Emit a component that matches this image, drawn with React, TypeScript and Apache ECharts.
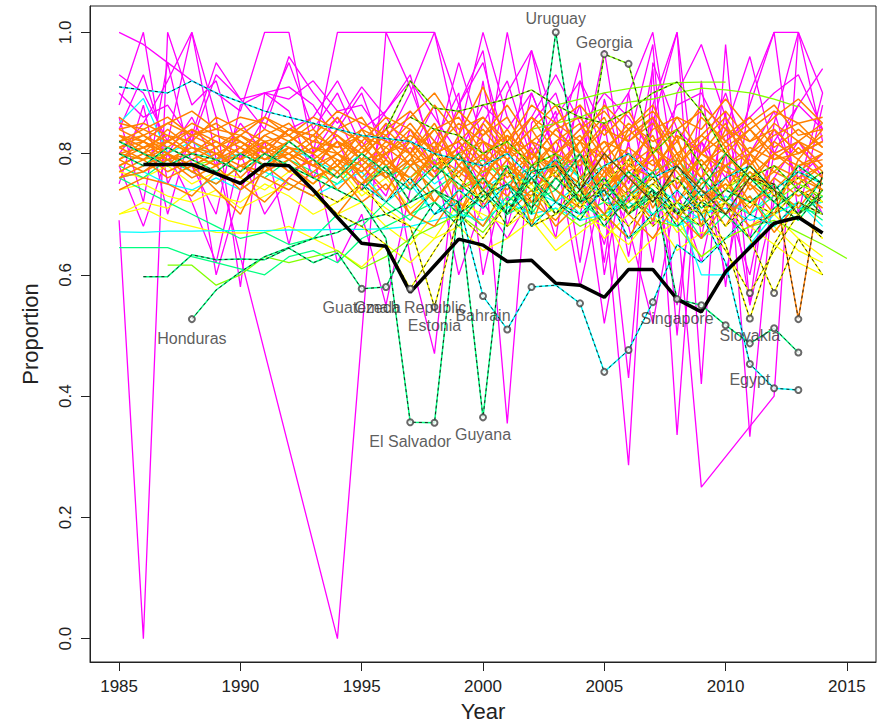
import React, { useEffect, useRef } from "react";
import * as echarts from "echarts";

const _ = null;
type Row = (number | null)[];

const YEARS = [1985, 1986, 1987, 1988, 1989, 1990, 1991, 1992, 1993, 1994, 1995, 1996, 1997, 1998, 1999, 2000, 2001, 2002, 2003, 2004, 2005, 2006, 2007, 2008, 2009, 2010, 2011, 2012, 2013, 2014, 2015];
const X_TICKS = [1985, 1990, 1995, 2000, 2005, 2010, 2015];
const Y_TICKS = [0, 0.2, 0.4, 0.6, 0.8, 1.0];

// ---- magenta countries
const magenta1: Row = [0.69, 0.0, 1.0, 0.88, 0.92, 0.79, 0.86, 0.95, 0.84, 0.9, 0.81, 0.87, 0.93, 0.78, 0.88, 0.95, 0.8, 0.86, 0.93, 0.85, 0.72, 0.286, 0.95, 0.84, 0.8, 0.9, 0.78, 0.84, 0.76, 0.8];
const magenta2: Row = [0.93, 0.9, 0.82, 1.0, 0.79, 0.63, _, _, _, 0.0, _, 1.0, 0.91, 0.8, 0.95, 0.82, 0.355, 0.85, 0.9, 0.77, 0.97, 0.72, 0.94, 0.336, 0.88, 0.84, 0.96, 0.8, 0.88, 0.94];
const magenta3: Row = [1.0, 0.98, 0.95, 0.92, 0.9, 0.87, 1.0, 1.0, 0.8, 1.0, 1.0, 1.0, 1.0, 1.0, 0.82, 0.74, 0.9, 0.97, 0.78, 0.88, 0.62, 0.9, 1.0, 0.74, 0.82, 0.76, 0.88, 1.0, 1.0, 0.9];
const magenta4: Row = [0.88, 1.0, 0.75, 0.83, 0.95, 0.89, 0.9, 0.91, 0.88, 0.82, 0.74, 0.85, 0.63, 0.47, 0.83, 1.0, 0.86, 0.79, 0.66, 0.92, 0.79, 0.43, 0.88, 1.0, 0.66, 0.87, 0.333, 0.76, 0.82, 0.78];
const magenta5: Row = [0.86, 0.72, 0.95, 0.78, 0.7, 0.88, 0.9, 0.89, 0.92, 0.87, 0.88, 0.82, 0.9, 1.0, 0.88, 0.76, 1.0, 0.8, 0.87, 0.62, 0.89, 0.75, 0.86, 0.7, 0.25, _, _, 0.4, 1.0, _];
const magenta6: Row = [0.8, 0.85, 0.92, 1.0, 0.86, 0.58, 0.9, 0.87, 0.76, 0.84, 0.9, 0.79, 0.87, 0.82, 0.9, 0.6, 0.78, 0.97, 0.85, 0.77, 0.65, 0.82, 0.62, 0.9, 0.98, 0.86, 0.66, 0.82, 0.88, 0.84];
const magenta7: Row = [0.9, 0.86, 0.88, 0.82, 0.93, 0.89, 0.84, 0.96, 0.9, 0.85, 0.91, 0.86, 0.8, 0.88, 0.72, 0.85, 0.92, 0.79, 0.86, 0.92, 0.84, 0.9, 0.68, 0.84, 0.78, 0.6, 0.8, 0.87, 0.74, 0.9];
const magenta8: Row = [0.78, 0.68, 0.8, 0.72, 0.62, 0.8, 0.7, 0.76, 0.8, 0.62, 0.7, 0.55, 0.74, 0.79, 0.6, 0.72, 0.66, 0.73, 0.8, 0.58, 0.76, 0.68, 0.52, 0.74, 0.62, 0.8, 0.55, 0.72, 0.78, 0.7];
const magenta9: Row = [0.84, 0.93, 0.8, 0.86, 0.78, 0.85, 0.8, 0.84, 0.86, 0.92, 0.84, 0.87, 0.92, 0.86, 0.8, 0.88, 0.84, 0.9, 0.8, 0.84, 0.9, 0.86, 0.8, 0.88, 0.9, 0.82, 0.86, 0.9, 0.93, 0.84];
const magenta10: Row = [_, _, _, _, _, _, _, _, _, _, _, _, _, _, _, _, _, _, _, 0.7, 0.85, 0.63, 0.85, 1.0, 0.42, 0.98, 0.55, 0.85, 1.0, 0.82];
const magenta11: Row = [_, _, _, _, _, _, _, _, _, _, _, _, _, _, 0.88, 0.97, 0.72, 0.9, 0.8, 0.95, 0.6, 0.82, 0.98, 0.5, 0.92, 0.58, 0.9, 1.0, 0.7, 0.88];
const magenta12: Row = [0.75, 0.88, 0.7, 0.84, 0.6, 0.74, 0.82, 0.65, 0.8, 0.86, 0.78, 0.73, 0.84, 0.77, 0.7, 0.92, 0.68, 0.82, 0.76, 0.8, 0.52, 0.74, 0.8, 0.55, 0.82, 0.72, 0.6, 0.8, 0.82, 0.76];

// ---- yellow countries
const yellow1: Row = [0.7, 0.72, 0.71, 0.74, 0.73, 0.72, 0.75, 0.73, 0.7, 0.72, 0.74, 0.71, 0.68, 0.66, 0.72, 0.7, 0.68, 0.71, 0.66, 0.7, 0.68, 0.65, 0.7, 0.64, 0.67, 0.66, 0.7, 0.68, 0.64, 0.62];
const yellow2: Row = [0.74, 0.75, 0.73, 0.72, 0.74, 0.71, 0.73, 0.75, 0.73, 0.7, 0.72, 0.68, 0.65, 0.7, 0.74, 0.69, 0.72, 0.68, 0.7, 0.72, 0.66, 0.7, 0.73, 0.67, 0.7, 0.72, 0.68, 0.71, 0.7, 0.66];
const yellow3: Row = [0.7, 0.71, 0.69, 0.68, 0.67, 0.669, 0.67, 0.68, 0.66, 0.64, 0.613, 0.65, 0.62, 0.66, 0.68, 0.64, 0.66, 0.69, 0.64, 0.67, 0.7, 0.62, 0.66, 0.69, 0.63, 0.66, 0.68, 0.65, 0.62, 0.6];
const yellow4: Row = [0.77, 0.76, 0.78, 0.75, 0.77, 0.76, 0.74, 0.77, 0.75, 0.78, 0.73, 0.76, 0.71, 0.74, 0.7, 0.76, 0.72, 0.75, 0.7, 0.73, 0.76, 0.71, 0.74, 0.7, 0.73, 0.75, 0.72, 0.7, 0.66, 0.63];

// ---- green countries
const spring1: Row = [0.645, 0.645, 0.645, 0.63, 0.62, 0.61, 0.6, 0.63, 0.64, 0.62, 0.66, 0.68, 0.7, 0.72, 0.69, 0.73, 0.7, 0.72, 0.74, 0.7, 0.72, 0.71, 0.73, 0.7, 0.68, 0.72, 0.7, 0.73, 0.71, 0.7];
const lime1: Row = [_, _, 0.616, 0.616, 0.583, 0.6, 0.63, 0.62, 0.63, 0.64, 0.61, 0.63, 0.66, 0.68, 0.7, 0.67, 0.72, 0.69, 0.71, 0.68, 0.7, 0.66, 0.69, 0.68, 0.63, 0.66, 0.68, 0.69, 0.67, 0.65, 0.627];
const spring2: Row = [0.78, 0.76, 0.79, 0.77, 0.75, 0.78, 0.76, 0.79, 0.77, 0.75, 0.79, 0.76, 0.78, 0.74, 0.77, 0.79, 0.75, 0.78, 0.8, 0.76, 0.78, 0.74, 0.77, 0.79, 0.75, 0.78, 0.76, 0.74, 0.77, 0.75];
const lime2: Row = [_, _, _, _, _, _, _, _, _, _, _, _, _, _, _, _, _, _, 0.88, 0.89, 0.9, 0.907, 0.912, 0.917, 0.918, 0.918, _, _, _, _];
const lime3: Row = [_, _, _, _, _, _, _, _, _, _, _, _, _, _, _, _, _, 0.84, 0.85, 0.86, 0.875, 0.885, 0.89, 0.9, 0.908, 0.905, 0.9, 0.89, 0.877, _];
const spring3: Row = [0.76, 0.74, 0.72, 0.7, 0.68, 0.66, 0.67, 0.65, 0.66, 0.7, 0.68, 0.72, 0.69, 0.74, 0.71, 0.68, 0.73, 0.7, 0.76, 0.72, 0.69, 0.74, 0.7, 0.72, 0.66, 0.7, 0.73, 0.68, 0.72, 0.69];
const lime4: Row = [0.8, 0.79, 0.8, 0.78, 0.79, 0.77, 0.8, 0.78, 0.76, 0.78, 0.75, 0.78, 0.76, 0.79, 0.74, 0.77, 0.78, 0.74, 0.77, 0.8, 0.75, 0.77, 0.73, 0.76, 0.79, 0.74, 0.77, 0.72, 0.75, 0.73];

// ---- cyan countries
const cyan1: Row = [0.671, 0.67, 0.672, 0.672, 0.673, 0.673, 0.673, 0.674, 0.674, 0.675, 0.675, 0.676, 0.68, 0.69, 0.7, 0.69, 0.72, 0.7, 0.71, 0.69, 0.7, 0.72, 0.7, 0.68, 0.7, 0.71, 0.69, 0.7, 0.72, 0.7];
const cyan2: Row = [0.85, 0.891, 0.8, 0.82, 0.79, 0.8, 0.78, 0.81, 0.79, 0.77, 0.8, 0.76, 0.79, 0.75, 0.78, 0.74, 0.77, 0.75, 0.79, 0.76, 0.73, 0.77, 0.74, 0.71, 0.6, 0.6, 0.65, 0.7, 0.72, 0.68];
const cyan3: Row = [0.76, 0.77, 0.75, 0.74, 0.76, 0.74, 0.77, 0.75, 0.73, 0.75, 0.77, 0.72, 0.75, 0.7, 0.74, 0.76, 0.71, 0.74, 0.72, 0.75, 0.7, 0.73, 0.75, 0.72, 0.69, 0.73, 0.7, 0.74, 0.71, 0.72];

// ---- orange countries
const orange1: Row = [0.82, 0.83, 0.81, 0.84, 0.82, 0.8, 0.83, 0.85, 0.81, 0.8, 0.78, 0.82, 0.8, 0.77, 0.81, 0.84, 0.79, 0.82, 0.8, 0.78, 0.82, 0.8, 0.77, 0.83, 0.8, 0.78, 0.81, 0.79, 0.8, 0.82];
const orange2: Row = [0.8, 0.79, 0.82, 0.8, 0.78, 0.81, 0.79, 0.8, 0.83, 0.78, 0.82, 0.76, 0.79, 0.84, 0.78, 0.75, 0.83, 0.8, 0.77, 0.82, 0.79, 0.74, 0.81, 0.78, 0.83, 0.8, 0.76, 0.8, 0.78, 0.79];
const orange3: Row = [0.84, 0.85, 0.83, 0.82, 0.86, 0.84, 0.82, 0.83, 0.8, 0.84, 0.86, 0.8, 0.83, 0.81, 0.85, 0.82, 0.8, 0.86, 0.83, 0.8, 0.84, 0.82, 0.86, 0.8, 0.83, 0.87, 0.82, 0.84, 0.8, 0.83];
const orange4: Row = [0.78, 0.8, 0.77, 0.79, 0.81, 0.76, 0.8, 0.78, 0.75, 0.79, 0.74, 0.78, 0.72, 0.76, 0.8, 0.73, 0.77, 0.71, 0.78, 0.75, 0.7, 0.76, 0.73, 0.69, 0.75, 0.78, 0.72, 0.74, 0.71, 0.76];
const orange5: Row = [0.82, 0.8, 0.84, 0.81, 0.79, 0.83, 0.8, 0.82, 0.79, 0.76, 0.8, 0.83, 0.78, 0.8, 0.76, 0.82, 0.79, 0.75, 0.8, 0.83, 0.77, 0.81, 0.78, 0.82, 0.76, 0.8, 0.84, 0.79, 0.82, 0.8];
const orange6: Row = [0.76, 0.78, 0.8, 0.77, 0.75, 0.78, 0.76, 0.74, 0.77, 0.8, 0.76, 0.72, 0.78, 0.74, 0.7, 0.76, 0.73, 0.78, 0.74, 0.71, 0.77, 0.73, 0.76, 0.7, 0.74, 0.72, 0.77, 0.74, 0.7, 0.73];
const orange7: Row = [0.83, 0.81, 0.82, 0.85, 0.83, 0.81, 0.84, 0.82, 0.85, 0.83, 0.8, 0.85, 0.82, 0.88, 0.83, 0.91, 0.82, 0.86, 0.8, 0.84, 0.87, 0.82, 0.85, 0.79, 0.86, 0.82, 0.85, 0.88, 0.83, 0.84];
const orange8: Row = [0.81, 0.82, 0.79, 0.8, 0.82, 0.79, 0.81, 0.79, 0.82, 0.81, 0.83, 0.79, 0.75, 0.8, 0.82, 0.78, 0.74, 0.8, 0.76, 0.82, 0.74, 0.79, 0.83, 0.75, 0.79, 0.74, 0.8, 0.77, 0.75, 0.78];
const orange9: Row = [0.79, 0.77, 0.8, 0.78, 0.8, 0.78, 0.77, 0.81, 0.78, 0.76, 0.79, 0.76, 0.8, 0.72, 0.77, 0.8, 0.75, 0.73, 0.79, 0.72, 0.76, 0.8, 0.71, 0.78, 0.73, 0.76, 0.7, 0.78, 0.76, 0.74];
const orange10: Row = [0.85, 0.84, 0.86, 0.83, 0.84, 0.86, 0.85, 0.83, 0.86, 0.84, 0.82, 0.86, 0.84, 0.8, 0.87, 0.83, 0.88, 0.82, 0.85, 0.88, 0.83, 0.87, 0.8, 0.86, 0.84, 0.89, 0.84, 0.87, 0.85, 0.86];
const orange11: Row = [0.77, 0.79, 0.76, 0.78, 0.74, 0.7, 0.78, 0.75, 0.73, 0.77, 0.72, 0.75, 0.7, 0.74, 0.72, 0.68, 0.75, 0.72, 0.69, 0.74, 0.7, 0.66, 0.73, 0.7, 0.66, 0.72, 0.68, 0.7, 0.74, 0.71];
const orange12: Row = [0.82, 0.84, 0.82, 0.8, 0.83, 0.82, 0.8, 0.84, 0.82, 0.86, 0.81, 0.84, 0.87, 0.82, 0.79, 0.85, 0.8, 0.84, 0.88, 0.8, 0.85, 0.78, 0.84, 0.86, 0.8, 0.83, 0.86, 0.81, 0.84, 0.81];
const orange13: Row = [_, _, _, _, _, _, _, 0.8, 0.78, 0.82, 0.76, 0.8, 0.74, 0.81, 0.7, 0.78, 0.82, 0.68, 0.79, 0.74, 0.8, 0.7, 0.77, 0.83, 0.68, 0.8, 0.75, 0.7, 0.79, 0.76];
const orange14: Row = [0.8, 0.81, 0.78, 0.82, 0.8, 0.77, 0.82, 0.8, 0.76, 0.78, 0.84, 0.78, 0.81, 0.76, 0.83, 0.79, 0.84, 0.78, 0.82, 0.76, 0.81, 0.84, 0.8, 0.74, 0.8, 0.85, 0.78, 0.82, 0.79, 0.84];
const orange15: Row = [0.74, 0.76, 0.75, 0.73, 0.77, 0.75, 0.72, 0.76, 0.74, 0.7, 0.75, 0.77, 0.7, 0.68, 0.74, 0.76, 0.7, 0.74, 0.68, 0.72, 0.76, 0.7, 0.66, 0.72, 0.76, 0.7, 0.73, 0.67, 0.72, 0.7];
const orange16: Row = [0.86, 0.83, 0.85, 0.87, 0.84, 0.83, 0.86, 0.84, 0.83, 0.87, 0.85, 0.83, 0.86, 0.9, 0.84, 0.86, 0.82, 0.88, 0.85, 0.82, 0.88, 0.84, 0.87, 0.82, 0.88, 0.84, 0.82, 0.86, 0.89, 0.85];
const orange17: Row = [0.79, 0.81, 0.83, 0.8, 0.78, 0.8, 0.82, 0.79, 0.81, 0.79, 0.77, 0.81, 0.78, 0.82, 0.74, 0.8, 0.77, 0.81, 0.72, 0.79, 0.82, 0.76, 0.8, 0.72, 0.78, 0.81, 0.74, 0.77, 0.81, 0.77];
const orange18: Row = [_, _, _, _, _, 0.78, 0.8, 0.77, 0.79, 0.74, 0.78, 0.74, 0.79, 0.76, 0.8, 0.71, 0.78, 0.75, 0.8, 0.72, 0.78, 0.74, 0.69, 0.79, 0.74, 0.68, 0.75, 0.72, 0.77, 0.74];
const orange19: Row = [0.83, 0.82, 0.8, 0.83, 0.85, 0.82, 0.79, 0.82, 0.84, 0.8, 0.83, 0.81, 0.85, 0.8, 0.82, 0.86, 0.81, 0.79, 0.84, 0.86, 0.8, 0.85, 0.82, 0.84, 0.87, 0.81, 0.84, 0.8, 0.82, 0.85];
const orange20: Row = [0.81, 0.79, 0.81, 0.79, 0.77, 0.8, 0.81, 0.77, 0.79, 0.82, 0.8, 0.77, 0.82, 0.78, 0.8, 0.76, 0.81, 0.77, 0.74, 0.8, 0.73, 0.78, 0.81, 0.77, 0.72, 0.78, 0.8, 0.74, 0.78, 0.8];
const orange21: Row = [0.84, 0.82, 0.85, 0.83, 0.81, 0.84, 0.86, 0.83, 0.8, 0.83, 0.79, 0.84, 0.8, 0.85, 0.78, 0.83, 0.86, 0.79, 0.84, 0.8, 0.76, 0.84, 0.88, 0.8, 0.76, 0.84, 0.8, 0.85, 0.82, 0.78];
const orange22: Row = [0.78, 0.8, 0.79, 0.81, 0.8, 0.82, 0.79, 0.81, 0.8, 0.77, 0.81, 0.78, 0.76, 0.8, 0.77, 0.74, 0.79, 0.82, 0.76, 0.79, 0.74, 0.78, 0.76, 0.8, 0.7, 0.76, 0.79, 0.73, 0.76, 0.78];
const orange23: Row = [0.81, 0.83, 0.8, 0.78, 0.8, 0.79, 0.83, 0.81, 0.78, 0.82, 0.79, 0.8, 0.84, 0.78, 0.81, 0.77, 0.8, 0.84, 0.78, 0.82, 0.86, 0.77, 0.8, 0.84, 0.78, 0.82, 0.78, 0.84, 0.8, 0.82];
const orange24: Row = [0.76, 0.77, 0.79, 0.76, 0.78, 0.74, 0.77, 0.79, 0.76, 0.78, 0.75, 0.79, 0.76, 0.72, 0.78, 0.74, 0.79, 0.72, 0.76, 0.73, 0.78, 0.72, 0.75, 0.78, 0.72, 0.75, 0.71, 0.76, 0.73, 0.75];
const orange25: Row = [0.83, 0.8, 0.82, 0.84, 0.81, 0.83, 0.81, 0.84, 0.83, 0.81, 0.84, 0.82, 0.8, 0.84, 0.86, 0.8, 0.83, 0.77, 0.82, 0.85, 0.79, 0.83, 0.86, 0.78, 0.82, 0.86, 0.8, 0.83, 0.85, 0.81];
const orange26: Row = [0.79, 0.82, 0.8, 0.77, 0.79, 0.81, 0.78, 0.8, 0.78, 0.8, 0.77, 0.8, 0.82, 0.77, 0.8, 0.82, 0.76, 0.8, 0.78, 0.75, 0.8, 0.76, 0.79, 0.74, 0.8, 0.77, 0.75, 0.8, 0.77, 0.8];

// ---- highlighted (dashed) countries
const cyanHigh: Row = [0.91, 0.905, 0.9, 0.92, 0.9, 0.885, 0.87, 0.86, 0.85, 0.84, 0.83, 0.825, 0.82, 0.8, 0.79, 0.78, 0.8, 0.76, 0.79, 0.74, 0.78, 0.8, 0.76, 0.78, 0.73, 0.76, 0.78, 0.74, 0.77, 0.75];
const honduras: Row = [_, _, _, 0.527, 0.575, 0.605, 0.63, 0.645, 0.66, 0.67, 0.69, 0.7, 0.72, 0.74, 0.7, 0.73, 0.75, 0.71, 0.76, 0.72, 0.74, 0.7, 0.73, 0.76, 0.71, 0.74, 0.72, 0.75, 0.7, 0.73];
const guatemala: Row = [_, 0.597, 0.597, 0.633, 0.625, 0.626, 0.625, 0.644, 0.62, 0.636, 0.577, 0.58, 0.66, 0.72, 0.68, 0.74, 0.7, 0.76, 0.72, 0.69, 0.75, 0.71, 0.74, 0.68, 0.72, 0.7, 0.66, 0.71, 0.74, 0.7];
const elSalvador: Row = [0.82, 0.8, 0.78, 0.8, 0.79, 0.77, 0.8, 0.78, 0.76, 0.74, 0.72, 0.66, 0.357, 0.356, 0.72, 0.76, 0.7, 0.78, 0.74, 0.8, 0.72, 0.77, 0.74, 0.7, 0.76, 0.72, 0.78, 0.74, 0.7, 0.76];
const czech: Row = [_, _, _, _, _, _, _, _, 0.74, 0.7, 0.68, 0.65, 0.577, 0.64, 0.7, 0.66, 0.72, 0.68, 0.7, 0.74, 0.69, 0.72, 0.76, 0.7, 0.73, 0.68, 0.72, 0.7, 0.74, 0.72];
const estonia: Row = [_, _, _, _, _, _, _, 0.78, 0.74, 0.72, 0.75, 0.7, 0.68, 0.547, 0.7, 0.74, 0.68, 0.73, 0.77, 0.71, 0.75, 0.79, 0.72, 0.76, 0.7, 0.74, 0.78, 0.73, 0.76, 0.72];
const bahrain: Row = [_, _, _, _, _, _, _, _, _, _, _, _, _, 0.7, 0.72, 0.565, 0.51, 0.58, 0.583, 0.553, 0.44, 0.476, 0.555, 0.65, 0.62, 0.66, 0.7, 0.68, 0.72, 0.7];
const guyana: Row = [_, _, _, _, _, _, _, _, _, _, _, _, _, 0.74, 0.72, 0.365, 0.72, 0.76, 0.7, 0.74, 0.68, 0.73, 0.77, 0.7, 0.74, 0.7, 0.76, 0.72, 0.69, 0.74];
const uruguay: Row = [0.8, 0.78, 0.81, 0.79, 0.77, 0.8, 0.78, 0.82, 0.79, 0.76, 0.8, 0.77, 0.74, 0.78, 0.75, 0.72, 0.78, 0.7, 1.0, 0.74, 0.8, 0.76, 0.72, 0.78, 0.74, 0.8, 0.76, 0.72, 0.78, 0.75];
const georgia: Row = [_, _, _, _, _, _, _, _, _, _, _, _, 0.86, 0.84, 0.83, 0.8, 0.82, 0.78, 0.8, 0.72, 0.964, 0.948, 0.8, 0.84, 0.78, 0.72, 0.76, 0.74, 0.7, 0.74];
const limeDashed: Row = [_, _, _, _, _, _, _, _, _, _, _, 0.84, 0.92, 0.875, 0.87, 0.88, 0.89, 0.905, 0.88, 0.86, 0.85, 0.87, 0.9, 0.918, 0.87, 0.8, 0.76, 0.78, 0.74, 0.77];
const singapore: Row = [_, _, _, _, _, _, _, _, _, _, 0.74, 0.78, 0.72, 0.76, 0.8, 0.74, 0.7, 0.77, 0.78, 0.72, 0.76, 0.7, 0.74, 0.56, 0.55, 0.517, 0.487, 0.512, 0.472, _];
const slovakia: Row = [_, _, _, _, _, _, _, _, _, _, _, _, _, 0.8, 0.76, 0.72, 0.77, 0.74, 0.7, 0.76, 0.72, 0.68, 0.73, 0.7, 0.72, 0.65, 0.528, 0.65, 0.72, 0.7];
const yellowDashed1: Row = [_, _, _, _, _, _, _, _, _, _, _, _, _, _, _, _, _, _, _, _, 0.7, 0.74, 0.68, 0.72, 0.7, 0.64, 0.57, 0.64, 0.7, 0.66];
const yellowDashed2: Row = [_, _, _, _, _, _, _, _, _, _, _, _, _, _, _, _, _, _, _, _, 0.74, 0.7, 0.75, 0.71, 0.68, 0.72, 0.66, 0.57, 0.66, 0.6];
const egypt: Row = [_, _, _, _, _, _, _, _, _, _, 0.75, 0.72, 0.76, 0.7, 0.74, 0.71, 0.75, 0.68, 0.72, 0.7, 0.74, 0.66, 0.7, 0.74, 0.7, 0.62, 0.453, 0.413, 0.41, _];
const orangeDashed: Row = [_, _, _, _, _, _, _, _, _, _, _, _, _, _, _, _, _, _, 0.78, 0.74, 0.8, 0.76, 0.72, 0.78, 0.74, 0.7, 0.76, 0.75, 0.527, 0.77];

// ---- overall (thick black)
const overall: Row = [_, 0.782, 0.782, 0.782, 0.767, 0.751, 0.782, 0.78, 0.74, 0.695, 0.652, 0.647, 0.571, 0.615, 0.659, 0.649, 0.622, 0.624, 0.586, 0.583, 0.563, 0.609, 0.609, 0.56, 0.539, 0.605, 0.645, 0.685, 0.695, 0.669];

const MAGENTA = "#FF00FF";
const ORANGE = "#FF8000";
const YELLOW = "#FFFF00";
const SPRING = "#00FF80";
const LIME = "#80FF00";
const CYAN = "#00FFFF";

const plainGroups: { color: string; rows: Row[] }[] = [
  { color: MAGENTA, rows: [magenta1, magenta2, magenta3, magenta4, magenta5, magenta6, magenta7, magenta8, magenta9, magenta10, magenta11, magenta12] },
  { color: YELLOW, rows: [yellow1, yellow2, yellow3, yellow4] },
  { color: SPRING, rows: [spring1, spring2, spring3] },
  { color: LIME, rows: [lime1, lime2, lime3, lime4] },
  { color: CYAN, rows: [cyan1, cyan2, cyan3] },
  { color: ORANGE, rows: [orange1, orange2, orange3, orange4, orange5, orange6, orange7, orange8, orange9, orange10, orange11, orange12, orange13, orange14, orange15, orange16, orange17, orange18, orange19, orange20, orange21, orange22, orange23, orange24, orange25, orange26] },
];

const dashedRows: { color: string; row: Row; circles: number[] }[] = [
  { color: CYAN, row: cyanHigh, circles: [] },
  { color: SPRING, row: honduras, circles: [1988] },
  { color: SPRING, row: guatemala, circles: [1995, 1996] },
  { color: SPRING, row: elSalvador, circles: [1997, 1998] },
  { color: YELLOW, row: czech, circles: [1997] },
  { color: YELLOW, row: estonia, circles: [1998] },
  { color: CYAN, row: bahrain, circles: [2000, 2001, 2002, 2004, 2005, 2006, 2007] },
  { color: SPRING, row: guyana, circles: [2000] },
  { color: SPRING, row: uruguay, circles: [2003] },
  { color: LIME, row: georgia, circles: [2005, 2006] },
  { color: LIME, row: limeDashed, circles: [] },
  { color: SPRING, row: singapore, circles: [2008, 2009, 2010, 2011, 2012, 2013] },
  { color: YELLOW, row: slovakia, circles: [2011] },
  { color: YELLOW, row: yellowDashed1, circles: [2011] },
  { color: YELLOW, row: yellowDashed2, circles: [2012] },
  { color: CYAN, row: egypt, circles: [2011, 2012, 2013] },
  { color: ORANGE, row: orangeDashed, circles: [2013] },
];

const countryLabels: { text: string; row: Row; year: number; place: "top" | "bottom"; gap: number }[] = [
  { text: "Uruguay", row: uruguay, year: 2003, place: "top", gap: 6 },
  { text: "Georgia", row: georgia, year: 2005, place: "top", gap: 4 },
  { text: "Honduras", row: honduras, year: 1988, place: "bottom", gap: 11 },
  { text: "Guatemala", row: guatemala, year: 1995, place: "bottom", gap: 11 },
  { text: "Czech Republic", row: czech, year: 1997, place: "bottom", gap: 11 },
  { text: "Estonia", row: estonia, year: 1998, place: "bottom", gap: 11 },
  { text: "El Salvador", row: elSalvador, year: 1997, place: "bottom", gap: 11 },
  { text: "Bahrain", row: bahrain, year: 2000, place: "bottom", gap: 11 },
  { text: "Guyana", row: guyana, year: 2000, place: "bottom", gap: 9 },
  { text: "Singapore", row: singapore, year: 2008, place: "bottom", gap: 11 },
  { text: "Slovakia", row: slovakia, year: 2011, place: "bottom", gap: 9 },
  { text: "Egypt", row: egypt, year: 2011, place: "bottom", gap: 8 },
];

const FONT = "'Liberation Sans', Arial, Helvetica, sans-serif";

function pairs(row: Row): [number, number][] {
  const out: [number, number][] = [];
  row.forEach((v, i) => {
    if (v !== null && v !== undefined) out.push([YEARS[i], v]);
  });
  return out;
}

function valueAt(row: Row, year: number): number {
  return row[YEARS.indexOf(year)] as number;
}

function buildOption() {
  const series: any[] = [];
  plainGroups.forEach((g) => {
    g.rows.forEach((r) => {
      series.push({
        type: "line",
        data: pairs(r),
        symbol: "none",
        silent: true,
        lineStyle: { color: g.color, width: g.color === ORANGE ? 1.5 : 1.3 },
        z: 2,
      });
    });
  });
  dashedRows.forEach((d) => {
    series.push({
      type: "line",
      data: pairs(d.row),
      symbol: "none",
      silent: true,
      lineStyle: { color: d.color, width: 1.5 },
      z: 3,
    });
    series.push({
      type: "line",
      data: pairs(d.row),
      symbol: "none",
      silent: true,
      lineStyle: { color: "#222", width: 1, type: [3, 3] },
      z: 4,
    });
  });
  series.push({
    type: "line",
    data: pairs(overall),
    symbol: "none",
    silent: true,
    lineStyle: { color: "#000", width: 3.5 },
    z: 5,
  });
  const circleData: [number, number][] = [];
  dashedRows.forEach((d) => d.circles.forEach((y) => circleData.push([y, valueAt(d.row, y)])));
  series.push({
    type: "scatter",
    data: circleData,
    symbol: "emptyCircle",
    symbolSize: 6,
    silent: true,
    itemStyle: { color: "#444", borderColor: "#444", borderWidth: 1.2 },
    z: 6,
  });
  series.push({
    type: "scatter",
    symbolSize: 0,
    silent: true,
    z: 7,
    data: countryLabels.map((l) => ({
      name: l.text,
      value: [l.year, valueAt(l.row, l.year)],
      label: {
        show: true,
        position: l.place,
        distance: l.gap,
        formatter: "{b}",
        fontSize: 16,
        fontFamily: FONT,
        color: "#333",
      },
    })),
  });

  return {
    animation: false,
    backgroundColor: "#fff",
    grid: { left: 90, top: 6, right: 11, bottom: 65, show: true, borderColor: "#222", borderWidth: 1, backgroundColor: "transparent" },
    xAxis: {
      type: "value",
      min: 1983.8,
      max: 2016.2,
      name: "Year",
      nameLocation: "middle",
      nameGap: 38,
      nameTextStyle: { fontSize: 22, fontFamily: FONT, color: "#222" },
      axisLine: { show: true, onZero: false, lineStyle: { color: "#222", width: 1 } },
      axisTick: { show: true, length: 9, customValues: X_TICKS, lineStyle: { color: "#222" } },
      axisLabel: {
        customValues: X_TICKS,
        fontSize: 17,
        fontFamily: FONT,
        color: "#222",
        margin: 16,
        formatter: (v: number) => String(Math.round(v)),
      },
      splitLine: { show: false },
    },
    yAxis: {
      type: "value",
      min: -0.0385,
      max: 1.0434,
      name: "Proportion",
      nameLocation: "middle",
      nameGap: 49,
      nameRotate: 90,
      nameTextStyle: { fontSize: 22, fontFamily: FONT, color: "#222" },
      axisLine: { show: true, onZero: false, lineStyle: { color: "#222", width: 1 } },
      axisTick: { show: true, length: 9, customValues: Y_TICKS, lineStyle: { color: "#222" } },
      axisLabel: {
        customValues: Y_TICKS,
        rotate: 90,
        fontSize: 17,
        fontFamily: FONT,
        color: "#222",
        margin: 16,
        formatter: (v: number) => v.toFixed(1),
      },
      splitLine: { show: false },
    },
    series,
  };
}

export default function App() {
  const ref = useRef<HTMLDivElement>(null);
  useEffect(() => {
    if (!ref.current) return;
    const chart = echarts.init(ref.current, undefined, { renderer: "svg" });
    chart.setOption(buildOption() as any);
    return () => chart.dispose();
  }, []);
  return (
    <div
      ref={ref}
      style={{ position: "fixed", left: 0, top: 0, width: 887, height: 727, background: "#fff" }}
    />
  );
}
